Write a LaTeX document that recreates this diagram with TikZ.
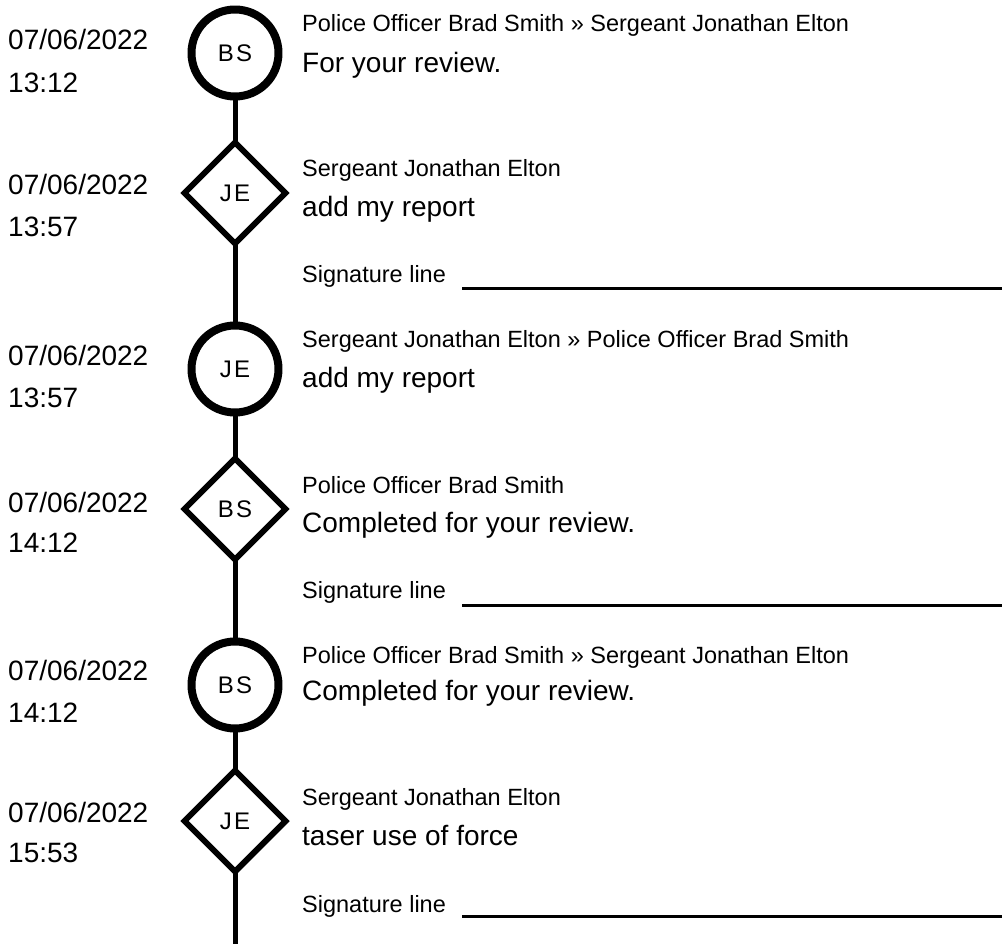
\documentclass[tikz,border=0pt]{standalone}
\usepackage{fontspec}
\setmainfont{Liberation Sans}
\newfontfamily\initfont[LetterSpace=10]{Liberation Sans}
\usetikzlibrary{shapes.geometric}

\begin{document}
\begin{tikzpicture}[line cap=round,line join=round,x=1pt,y=-1pt,
	evcircle/.style={draw,circle,line width=8pt,minimum size=87pt,inner sep=0pt,outer sep=0pt,font=\initfont\fontsize{24}{24}\selectfont},
	evdiamond/.style={draw,diamond,line width=6pt,line join=miter,minimum size=101pt,inner sep=0pt,outer sep=0pt,font=\initfont\fontsize{24}{24}\selectfont},
	stamp/.style={anchor=base west,inner sep=0pt,font=\fontsize{28}{32}\selectfont},
	who/.style={anchor=base west,inner sep=0pt,font=\fontsize{23.5}{26}\selectfont},
	msg/.style={anchor=base west,inner sep=0pt,font=\fontsize{28}{32}\selectfont},
	timeline/.style={line width=5pt,line cap=butt},
	sigline/.style={line width=3pt,line cap=butt}]%review history
	\useasboundingbox (0,0) rectangle (1002,944);
	\node[evcircle] (c1) at (235,53) {BS};
	\node[evdiamond] (d2) at (235,193) {JE};
	\node[evcircle] (c3) at (235,369) {JE};
	\node[evdiamond] (d4) at (235,509) {BS};
	\node[evcircle] (c5) at (235,685) {BS};
	\node[evdiamond] (d6) at (235,821) {JE};
	\coordinate (tail) at (235,944);
	\draw[timeline] (c1) -- (d2);
	\draw[timeline] (d2) -- (c3);
	\draw[timeline] (c3) -- (d4);
	\draw[timeline] (d4) -- (c5);
	\draw[timeline] (c5) -- (d6);
	\draw[timeline] (d6) -- (tail);
	\node[stamp] (t1a) at (8,50) {07/06/2022};
	\node[stamp] (t1b) at (8,93) {13:12};
	\node[stamp] (t2a) at (8,195) {07/06/2022};
	\node[stamp] (t2b) at (8,237) {13:57};
	\node[stamp] (t3a) at (8,365) {07/06/2022};
	\node[stamp] (t3b) at (8,407) {13:57};
	\node[stamp] (t4a) at (8,512) {07/06/2022};
	\node[stamp] (t4b) at (8,552) {14:12};
	\node[stamp] (t5a) at (8,680) {07/06/2022};
	\node[stamp] (t5b) at (8,722) {14:12};
	\node[stamp] (t6a) at (8,822) {07/06/2022};
	\node[stamp] (t6b) at (8,862) {15:53};
	\node[who] (w1) at (302,32) {Police Officer Brad Smith » Sergeant Jonathan Elton};
	\node[msg] (m1) at (302,73) {For your review.};
	\node[who] (w2) at (302,177) {Sergeant Jonathan Elton};
	\node[msg] (m2) at (302,217) {add my report};
	\node[who] (g2) at (302,283) {Signature line};
	\node[who] (w3) at (302,347) {Sergeant Jonathan Elton » Police Officer Brad Smith};
	\node[msg] (m3) at (302,387) {add my report};
	\node[who] (w4) at (302,493) {Police Officer Brad Smith};
	\node[msg] (m4) at (302,532) {Completed for your review.};
	\node[who] (g4) at (302,598) {Signature line};
	\node[who] (w5) at (302,663) {Police Officer Brad Smith » Sergeant Jonathan Elton};
	\node[msg] (m5) at (302,700) {Completed for your review.};
	\node[who] (w6) at (302,805) {Sergeant Jonathan Elton};
	\node[msg] (m6) at (302,845) {taser use of force};
	\node[who] (g6) at (302,912) {Signature line};
	\coordinate (s2l) at (462,289);
	\coordinate (s2r) at (1002,289);
	\coordinate (s4l) at (462,605);
	\coordinate (s4r) at (1002,605);
	\coordinate (s6l) at (462,916);
	\coordinate (s6r) at (1002,916);
	\draw[sigline] (s2l) -- (s2r);
	\draw[sigline] (s4l) -- (s4r);
	\draw[sigline] (s6l) -- (s6r);
\end{tikzpicture}
\end{document}
